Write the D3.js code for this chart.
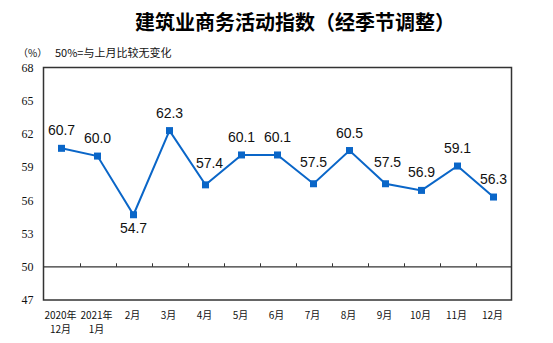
<!DOCTYPE html>
<html>
<head>
<meta charset="utf-8">
<script src="https://cdn.jsdelivr.net/npm/d3@7/dist/d3.min.js"></script>
<style>
  html, body { margin: 0; padding: 0; background: #fff; }
  svg { display: block; }
</style>
</head>
<body>
<svg id="chart" width="553" height="343"></svg>
<script>
// Construction business activity index, seasonally adjusted
const categories = ["2020年12月", "2021年1月", "2月", "3月", "4月", "5月", "6月", "7月", "8月", "9月", "10月", "11月", "12月"];
const labelLine1 = ["2020年", "2021年", "2月", "3月", "4月", "5月", "6月", "7月", "8月", "9月", "10月", "11月", "12月"];
const labelLine2 = ["12月", "1月", "", "", "", "", "", "", "", "", "", "", ""];
const values = [60.7, 60.0, 54.7, 62.3, 57.4, 60.1, 60.1, 57.5, 60.5, 57.5, 56.9, 59.1, 56.3];
const yTicks = [47, 50, 53, 56, 59, 62, 65, 68];
const baseline = 50;

const svg = d3.select("#chart");
const plotLeft = 43.5, plotRight = 511.5, plotTop = 67.5, plotBottom = 300;

const x = d3.scaleBand().domain(categories).range([plotLeft, plotRight]).paddingInner(0).paddingOuter(0);
const y = d3.scaleLinear().domain([47, 68]).range([plotBottom, plotTop]);
const cx = c => x(c) + x.bandwidth() / 2;

// Title
svg.append("text")
  .attr("x", 295).attr("y", 30)
  .attr("text-anchor", "middle")
  .style("font-family", "'Noto Sans CJK SC', sans-serif")
  .style("font-weight", "bold")
  .style("font-size", "20px")
  .attr("fill", "#000")
  .text("建筑业商务活动指数（经季节调整）");

// Unit and note
svg.append("text")
  .attr("x", 18).attr("y", 57)
  .style("font-family", "'Noto Sans CJK SC', sans-serif")
  .style("font-size", "10px")
  .attr("fill", "#111")
  .text("（%）");
svg.append("text")
  .attr("x", 55).attr("y", 57)
  .style("font-family", "'Noto Sans CJK SC', sans-serif")
  .style("font-size", "11px")
  .attr("fill", "#111")
  .text("50%=与上月比较无变化");

// Y axis labels (no tick marks)
const yAxis = d3.axisLeft(y).tickValues(yTicks).tickSize(0).tickPadding(10);
const gy = svg.append("g").attr("transform", `translate(${plotLeft},0)`).call(yAxis);
gy.select(".domain").remove();
gy.selectAll("text")
  .style("font-family", "'Liberation Serif', 'Times New Roman', serif")
  .style("font-size", "12px")
  .attr("fill", "#111");

// Plot frame
svg.append("rect")
  .attr("x", plotLeft).attr("y", plotTop)
  .attr("width", plotRight - plotLeft).attr("height", plotBottom - plotTop)
  .attr("fill", "none").attr("stroke", "#333").attr("stroke-width", 1.5);

// 50% reference line with category separators
const gx = svg.append("g").attr("transform", `translate(0,${y(baseline)})`);
gx.append("line")
  .attr("x1", plotLeft).attr("x2", plotRight)
  .attr("stroke", "#333").attr("stroke-width", 1.2);
gx.selectAll("line.sep")
  .data(categories.slice(1))
  .join("line")
  .attr("class", "sep")
  .attr("x1", d => Math.round(x(d)) + 0.5).attr("x2", d => Math.round(x(d)) + 0.5)
  .attr("y1", 0).attr("y2", -3.5)
  .attr("stroke", "#333").attr("stroke-width", 1);

// Category labels below the frame
const xl = svg.append("g")
  .style("font-family", "'Noto Sans CJK SC', sans-serif")
  .style("font-size", "10px")
  .attr("fill", "#111");
xl.selectAll("text.l1")
  .data(categories)
  .join("text")
  .attr("class", "l1")
  .attr("x", d => cx(d) - 1)
  .attr("y", 319)
  .attr("text-anchor", "middle")
  .text((d, i) => labelLine1[i]);
xl.selectAll("text.l2")
  .data(categories)
  .join("text")
  .attr("class", "l2")
  .attr("x", d => cx(d) - 1)
  .attr("y", 333)
  .attr("text-anchor", "middle")
  .text((d, i) => labelLine2[i]);

// Series line
const pts = categories.map((c, i) => ({ c, v: values[i] }));
svg.append("path")
  .datum(pts)
  .attr("fill", "none")
  .attr("stroke", "#0a66c8")
  .attr("stroke-width", 2)
  .attr("stroke-linejoin", "miter")
  .attr("d", d3.line().x(d => cx(d.c)).y(d => y(d.v)));

// Square markers
svg.selectAll("rect.mk")
  .data(pts)
  .join("rect")
  .attr("class", "mk")
  .attr("x", d => cx(d.c) - 3.5)
  .attr("y", d => y(d.v) - 3.5)
  .attr("width", 7).attr("height", 7)
  .attr("fill", "#0a66c8");

// Value labels: above the point, except where the line dips sharply
const lowPoints = new Set([2]);
const deepLift = new Set([4, 7, 9]);
svg.selectAll("text.val")
  .data(pts)
  .join("text")
  .attr("class", "val")
  .attr("x", (d, i) => cx(d.c) + (i === 4 ? 4 : i === 9 ? 2 : 0))
  .attr("y", (d, i) => lowPoints.has(i) ? y(d.v) + 18 : y(d.v) - (deepLift.has(i) ? 16.5 : 13))
  .attr("text-anchor", "middle")
  .style("font-family", "'Liberation Sans', Arial, sans-serif")
  .style("font-size", "14px")
  .attr("fill", "#111")
  .text(d => d.v.toFixed(1));
</script>
</body>
</html>
